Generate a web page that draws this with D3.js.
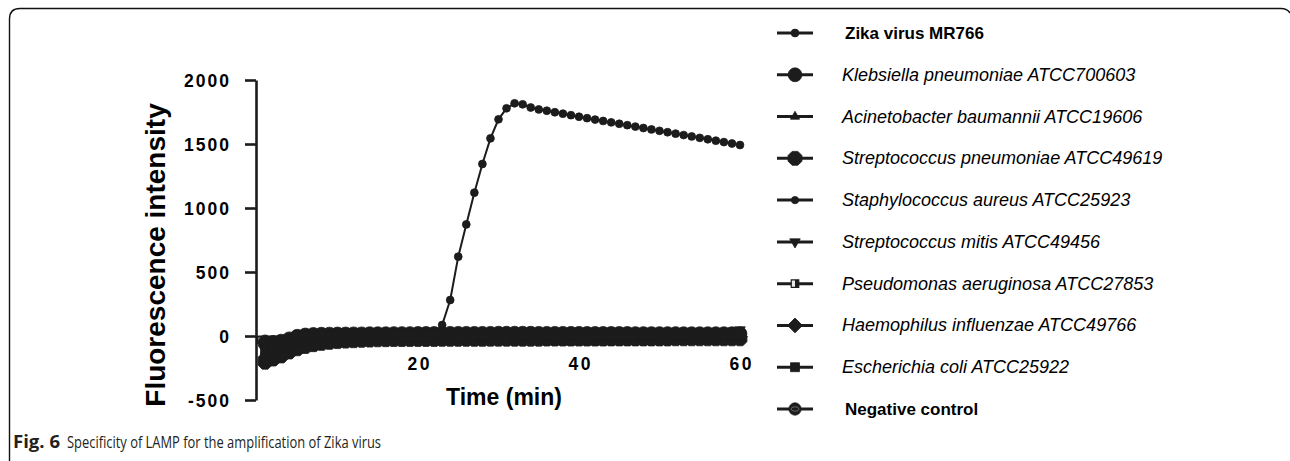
<!DOCTYPE html>
<html><head><meta charset="utf-8">
<script src="https://cdn.jsdelivr.net/npm/d3@7/dist/d3.min.js"></script>
<style>body{margin:0;background:#fff;} svg{display:block;}</style>
</head><body>
<svg id="c" width="1290" height="461"></svg>
<script>
// ---------- DATA ----------
const time = [1,2,3,4,5,6,7,8,9,10,11,12,13,14,15,16,17,18,19,20,21,22,23,24,25,26,27,28,29,30,
  31,32,33,34,35,36,37,38,39,40,41,42,43,44,45,46,47,48,49,50,51,52,53,54,55,56,57,58,59,60];

const zika = [-45,-40,-35,-25,0,5,5,8,8,10,10,10,12,12,12,12,14,14,14,15,15,15,
  86,281,620,872,1120,1344,1544,1693,1779,1818,1810,1785,1770,1760,1748,1737,1725,1713,
  1702,1691,1680,1669,1658,1647,1636,1625,1614,1603,1592,1581,1570,1559,1548,1537,1526,1515,1504,1492];
const klebsiella = [-60,-52,-40,-22,-2,8,12,14,15,16,16,17,17,18,18,18,19,19,19,20,
  20,20,20,21,21,21,21,21,21,22,22,22,22,22,21,21,21,21,21,21,20,20,20,20,20,20,19,19,19,19,19,19,18,18,18,18,18,18,18,18];
const acinetobacter = [-120,-100,-80,-60,-42,-30,-20,-14,-10,-7,-5,-3,-2,-1,0,1,2,3,3,4,
  4,5,5,5,6,6,6,6,7,7,7,7,8,8,8,8,8,9,9,9,9,9,10,10,10,10,10,10,11,11,11,11,11,11,12,12,12,12,12,12];
const strepPneumoniae = [-205,-180,-156,-125,-100,-82,-68,-58,-50,-44,-40,-37,-34,-32,-30,-29,-28,-28,-27,-27,
  -27,-27,-26,-26,-26,-26,-26,-26,-25,-25,-25,-25,-25,-25,-25,-24,-24,-24,-24,-24,-24,-24,-24,-23,-23,-23,-23,-23,-23,-23,-23,-22,-22,-22,-22,-22,-22,-22,-22,-22];
const staphAureus = [-100,-85,-70,-55,-42,-32,-25,-20,-15,-12,-10,-8,-6,-5,-4,-3,-2,-2,-1,-1,
  0,0,0,1,1,1,1,2,2,2,2,2,3,3,3,3,3,3,4,4,4,4,4,4,4,5,5,5,5,5,5,5,5,6,6,6,6,6,6,6];
const strepMitis = [-80,-65,-50,-35,-20,-10,-4,0,3,5,7,8,9,10,10,11,11,12,12,12,
  12,13,13,13,13,14,14,14,14,14,15,15,15,15,15,15,16,16,16,16,16,16,17,17,17,17,17,18,18,18,18,19,19,20,21,23,26,31,38,48];
const pseudomonas = [-45,-40,-30,-18,-8,0,4,7,9,10,11,12,12,13,13,13,14,14,14,14,
  14,14,14,15,15,15,15,15,15,15,15,15,16,16,16,16,16,16,16,16,16,16,16,17,17,17,17,17,17,17,17,17,17,17,18,18,18,18,18,18];
const haemophilus = [-170,-150,-128,-105,-85,-68,-55,-45,-38,-32,-28,-25,-22,-20,-18,-17,-16,-15,-14,-14,
  -13,-13,-13,-12,-12,-12,-12,-11,-11,-11,-11,-10,-10,-10,-10,-10,-9,-9,-9,-9,-9,-9,-8,-8,-8,-8,-8,-8,-7,-7,-7,-7,-7,-7,-7,-6,-6,-6,-6,-6];
const ecoli = [-130,-110,-90,-70,-52,-40,-30,-24,-19,-15,-12,-10,-9,-8,-7,-6,-6,-5,-5,-5,
  -5,-4,-4,-4,-4,-4,-3,-3,-3,-3,-3,-3,-3,-2,-2,-2,-2,-2,-2,-2,-2,-1,-1,-1,-1,-1,-1,-1,-1,0,0,0,0,0,0,0,0,0,1,1];
const negative = [-40,-45,-42,-35,-25,-15,-8,-3,0,2,4,5,6,7,8,8,9,9,9,10,
  10,10,10,10,11,11,11,11,11,11,12,12,12,12,12,12,12,12,13,13,13,13,13,13,13,13,13,14,14,14,14,14,14,14,14,14,14,15,15,15];

const seriesNames = ["Zika virus MR766","Klebsiella pneumoniae ATCC700603","Acinetobacter baumannii ATCC19606",
  "Streptococcus pneumoniae ATCC49619","Staphylococcus aureus ATCC25923","Streptococcus mitis ATCC49456",
  "Pseudomonas aeruginosa ATCC27853","Haemophilus influenzae ATCC49766","Escherichia coli ATCC25922","Negative control"];
const seriesValues = [zika, klebsiella, acinetobacter, strepPneumoniae, staphAureus, strepMitis, pseudomonas, haemophilus, ecoli, negative];
const yTicks = [-500,0,500,1000,1500,2000];
const xTicks = [0,20,40,60];
const xTickLabels = ["","20","40","60"];

// ---------- STYLE ----------
const ink = "#1c1c1c";
const octagon = {draw(ctx, size){ const r=Math.sqrt(size/2.83); for(let i=0;i<8;i++){const a=Math.PI/8+i*Math.PI/4; const px=r*Math.cos(a), py=r*Math.sin(a); i?ctx.lineTo(px,py):ctx.moveTo(px,py);} ctx.closePath(); }};
const markerSpec = [
  {type:d3.symbolCircle, size:48, rot:0, bold:true},
  {type:d3.symbolCircle, size:150, rot:0},
  {type:d3.symbolTriangle, size:36, rot:0},
  {type:octagon, size:160, rot:0},
  {type:d3.symbolCircle, size:42, rot:0},
  {type:d3.symbolTriangle, size:48, rot:180},
  {type:d3.symbolSquare, size:56, rot:0, half:true},
  {type:d3.symbolSquare, size:110, rot:45},
  {type:d3.symbolSquare, size:80, rot:0},
  {type:d3.symbolCircle, size:120, rot:0, neg:true, bold:true}
];

const svg = d3.select("#c");
const defs = svg.append("defs");
const g1 = defs.append("linearGradient").attr("id","half").attr("x1","0").attr("x2","1").attr("y1","0").attr("y2","0");
g1.append("stop").attr("offset","0.5").attr("stop-color","#e8e8e8");
g1.append("stop").attr("offset","0.5").attr("stop-color",ink);

// frame
svg.append("path").attr("d","M9.5,461 L9.5,19 Q9.5,8.5 20,8.5 L1281,8.5 Q1287,8.5 1290,13")
  .attr("fill","none").attr("stroke","#111").attr("stroke-width",1.4);

const x = d3.scaleLinear().domain([0,60]).range([257,740]);
const y = d3.scaleLinear().domain([-500,2000]).range([400,80]);

// y axis
const ya = svg.append("g").attr("transform","translate(256,0)")
  .call(d3.axisLeft(y).tickValues(yTicks).tickSize(11).tickSizeOuter(0).tickPadding(14).tickFormat(d=>String(d)));
ya.select(".domain").attr("stroke",ink).attr("stroke-width",2.6);
ya.selectAll(".tick line").attr("stroke",ink).attr("stroke-width",2.6);
ya.selectAll(".tick text").attr("fill","#000").attr("font-family","Liberation Sans, Arial, sans-serif")
  .attr("font-weight","bold").attr("font-size",17.5).attr("letter-spacing",2).attr("dy","0.36em");

// x axis
const xa = svg.append("g").attr("transform",`translate(0,${y(0)})`)
  .call(d3.axisBottom(x).tickValues(xTicks).tickSize(8).tickSizeOuter(0).tickPadding(14).tickFormat((d,i)=>xTickLabels[i]));
xa.select(".domain").attr("stroke",ink).attr("stroke-width",2.2);
xa.selectAll(".tick line").attr("stroke",ink).attr("stroke-width",2.2);
xa.selectAll(".tick text").attr("fill","#000").attr("font-family","Liberation Sans, Arial, sans-serif")
  .attr("font-weight","bold").attr("font-size",17.5).attr("letter-spacing",2.4).attr("dx",1.2);

// axis titles
svg.append("text").attr("x",504).attr("y",405).attr("text-anchor","middle")
  .attr("font-family","Liberation Sans, Arial, sans-serif").attr("font-weight","bold").attr("font-size",23)
  .text("Time (min)");
svg.append("text").attr("transform","translate(165,255) rotate(-90)").attr("text-anchor","middle")
  .attr("font-family","Liberation Sans, Arial, sans-serif").attr("font-weight","bold").attr("font-size",28)
  .text("Fluorescence intensity");

function drawMarker(sel, spec, inLegend){
  const p = sel.append("path").attr("d", d3.symbol().type(spec.type).size(spec.size)())
    .attr("fill", spec.half ? "url(#half)" : ink).attr("stroke", ink).attr("stroke-width", spec.half?1.2:0.8);
  if (spec.rot) p.attr("transform", `rotate(${spec.rot})`);
  if (spec.neg && inLegend) sel.append("ellipse").attr("rx",4).attr("ry",2.2).attr("fill","none").attr("stroke","#666").attr("stroke-width",1);
}

const line = d3.line().x((d,i)=>x(time[i])).y(d=>y(d));
const order = [1,2,3,4,5,6,7,8,9,0];
order.forEach(k=>{
  const vals = seriesValues[k];
  const gs = svg.append("g");
  gs.append("path").attr("d", line(vals)).attr("fill","none").attr("stroke",ink).attr("stroke-width",2);
  vals.forEach((v,i)=>{
    const m = gs.append("g").attr("transform",`translate(${x(time[i])},${y(v)})`);
    drawMarker(m, markerSpec[k], false);
  });
});

// legend
const ly = d3.scaleLinear().domain([0,9]).range([33,409]);
const lg = svg.append("g");
seriesNames.forEach((name,k)=>{
  const yy = ly(k);
  lg.append("line").attr("x1",777).attr("x2",813).attr("y1",yy).attr("y2",yy).attr("stroke",ink).attr("stroke-width",3);
  const m = lg.append("g").attr("transform",`translate(795,${yy})`);
  drawMarker(m, markerSpec[k], true);
  const bold = markerSpec[k].bold;
  lg.append("text").attr("x", bold?845:842).attr("y", yy+6)
    .attr("font-family","Liberation Sans, Arial, sans-serif")
    .attr("font-size", bold?17:18).attr("font-weight", bold?"bold":"normal")
    .attr("font-style", bold?"normal":"italic").attr("fill","#000").text(name);
});

// caption
svg.append("text").attr("x",13).attr("y",448).attr("font-family","Liberation Sans Narrow, Open Sans, sans-serif")
  .attr("font-size",17).attr("font-weight","bold").attr("fill","#231f20")
  .attr("textLength",47).attr("lengthAdjust","spacingAndGlyphs").text("Fig. 6");
svg.append("text").attr("x",67).attr("y",448).attr("font-family","Liberation Sans Narrow, Open Sans, sans-serif")
  .attr("font-size",17).attr("fill","#231f20")
  .attr("textLength",314).attr("lengthAdjust","spacingAndGlyphs").text("Specificity of LAMP for the amplification of Zika virus");
</script>
</body></html>
